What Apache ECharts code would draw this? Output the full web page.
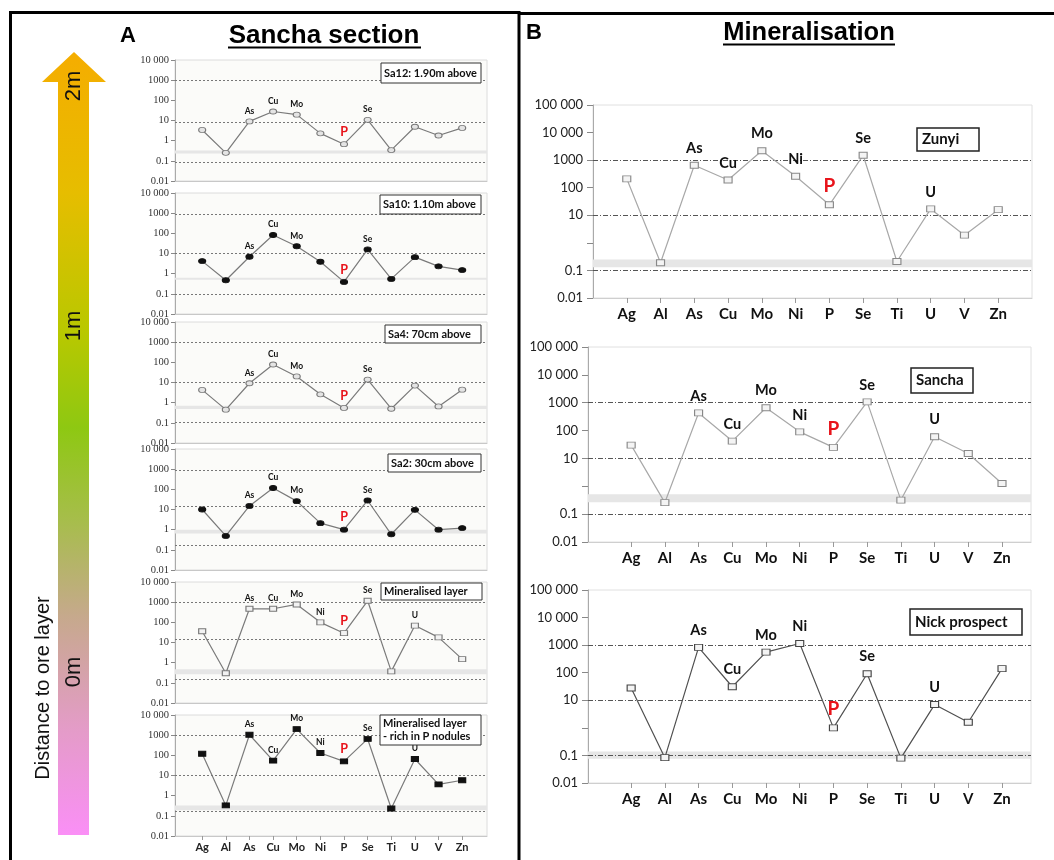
<!DOCTYPE html>
<html><head><meta charset="utf-8">
<script src="https://cdn.jsdelivr.net/npm/echarts@6/dist/echarts.min.js"></script>
<style>html,body{margin:0;padding:0;background:#fff}#c{width:1054px;height:860px}</style>
</head><body><div id="c"></div>
<script>
// ---------- DATA ----------
const elements = ['Ag','Al','As','Cu','Mo','Ni','P','Se','Ti','U','V','Zn'];
const yTicksA = ['0.01','0.1','1','10','100','1000','10 000'];
const yTicksB = ['0.01','0.1','','10','100','1000','10 000','100 000'];

// Panel A: Sancha section (top to bottom)
const panelA_names = ['Sa12: 1.90m above','Sa10: 1.10m above','Sa4: 70cm above','Sa2: 30cm above','Mineralised layer','Mineralised layer\n- rich in P nodules'];
const sa12     = [3.4, 0.25, 9, 28, 19.5, 2.3, 0.67, 10.8, 0.34, 4.9, 1.8, 4.3];
const sa10     = [4.2, 0.47, 6.9, 83, 23, 3.9, 0.39, 16, 0.55, 6.6, 2.3, 1.5];
const sa4      = [4.3, 0.45, 9.2, 78, 20, 2.6, 0.55, 14, 0.5, 7, 0.65, 4.4];
const sa2      = [10, 0.49, 15, 117, 26, 2.1, 1.0, 28, 0.59, 9.6, 1.0, 1.2];
const minLayer = [36, 0.3, 470, 470, 770, 100, 29, 1170, 0.37, 69, 18, 1.5];
const minLayerP= [120, 0.33, 1050, 55, 2000, 130, 50, 650, 0.23, 66, 3.6, 5.8];
const labelsA_short = ['As','Cu','Mo','P','Se'];
const labelsA_long  = ['As','Cu','Mo','Ni','P','Se','U'];
const refLinesA = [[1000, 8, 0.09],[900, 10, 0.1],[940, 10, 0.11],[850, 14, 0.16],[1000, 14, 0.15],[1000, 10, 0.16]];
const bandsA    = [[0.23, 0.33],[0.5, 0.63],[0.48, 0.71],[0.64, 1.0],[0.27, 0.47],[0.19, 0.33]];

// Panel B: Mineralisation
const panelB_names = ['Zunyi','Sancha','Nick prospect'];
const zunyi   = [210, 0.19, 650, 190, 2200, 260, 24, 1500, 0.21, 17, 1.9, 16];
const sanchaB = [30, 0.26, 430, 42, 660, 90, 25, 1070, 0.32, 60, 15, 1.26];
const nick    = [28, 0.083, 830, 31, 560, 1150, 1.0, 92, 0.08, 7, 1.6, 140];
const labelsB = ['As','Cu','Mo','Ni','P','Se','U'];
const refLinesB = [[1000, 10, 0.1],[1000, 10, 0.1],[1000, 10, 0.1]];
const bandsB    = [[0.13, 0.25],[0.27, 0.52],[0.075, 0.14]];

// ---------- LAYOUT ----------
const chart = echarts.init(document.getElementById('c'), null, {renderer:'canvas'});
const idx = elements.map((_, i) => i);
const grids = [], xAxes = [], yAxes = [], series = [], graphics = [];

const aTops = [60, 193, 322, 449, 582, 715];
const aVals = [sa12, sa10, sa4, sa2, minLayer, minLayerP];
const aSym = [
  {symbol:'circle', size:[7,5], fill:'#e4e4e4', stroke:'#777'},
  {symbol:'circle', size:[7,5], fill:'#111', stroke:'#111'},
  {symbol:'circle', size:[7,5], fill:'#e4e4e4', stroke:'#777'},
  {symbol:'circle', size:[7,5], fill:'#111', stroke:'#111'},
  {symbol:'rect', size:[7,5], fill:'#f2f2f2', stroke:'#777'},
  {symbol:'rect', size:[7,5], fill:'#111', stroke:'#111'}
];
const aBoxes = [
  [381, 63, 100, 20], [380, 195, 101, 19], [385, 325, 96, 18],
  [388, 454, 93, 18], [381, 583, 101, 17], [380, 715, 101, 30]
];

function logLabel(ticks) {
  return v => { const e = Math.round(Math.log10(v)); return ticks[e + 2] ?? ''; };
}

function buildData(vals, labeled, base, pSize, dist) {
  return elements.map((e, i) => {
    const item = {value: [i, vals[i]]};
    if (labeled.includes(e)) {
      item.label = {show: true, position: 'top', distance: dist, formatter: e,
        fontFamily: 'Lato', fontWeight: 'bold',
        fontSize: e === 'P' ? pSize : base, color: e === 'P' ? '#e8141b' : '#111'};
    }
    return item;
  });
}

aTops.forEach((top, k) => {
  const gi = grids.length;
  grids.push({left:175, top:top, width:312, height:121, show:true,
    backgroundColor:'#fbfbf9', borderColor:'#dcdcdc', borderWidth:1});
  const last = k === aTops.length - 1;
  xAxes.push({gridIndex: gi, type:'value', min:-1.15, max:12.05,
    axisLine:{show:true, onZero:false, lineStyle:{color:'#c8c8c8'}},
    splitLine:{show:false},
    axisTick:{show:last, customValues: idx, length:4, lineStyle:{color:'#999'}},
    axisLabel:{show:last, customValues: idx, formatter: v => elements[Math.round(v)],
      fontFamily:'Lato', fontWeight:'bold', fontSize:11, color:'#222', margin:6}
  });
  yAxes.push({gridIndex: gi, type:'log', logBase:10, min:0.01, max:10000, interval:1,
    axisLine:{show:true, onZero:false, lineStyle:{color:'#aaa'}},
    axisTick:{show:true, inside:false, length:4, lineStyle:{color:'#888'}},
    splitLine:{show:false},
    axisLabel:{formatter: logLabel(yTicksA), fontFamily:'Liberation Serif', fontSize:10.5, color:'#333', margin:6}
  });
  const s = aSym[k];
  series.push({type:'line', xAxisIndex: gi, yAxisIndex: gi,
    data: buildData(aVals[k], k < 4 ? labelsA_short : labelsA_long, 8.5, 12.5, 3),
    symbol: s.symbol, symbolSize: s.size, showSymbol:true,
    itemStyle:{color:s.fill, borderColor:s.stroke, borderWidth:1},
    lineStyle:{color:'#7a7a7a', width:1.2},
    label:{show:false}, animation:false, z:5,
    markLine:{silent:true, symbol:'none', label:{show:false}, animation:false,
      lineStyle:{color:'#777', type:[2,2], width:1},
      data: refLinesA[k].map(v => ({yAxis: v}))},
    markArea:{silent:true, animation:false, itemStyle:{color:'#e6e6e6'},
      data:[[{yAxis: bandsA[k][0]}, {yAxis: bandsA[k][1]}]]}
  });
  const b = aBoxes[k];
  graphics.push({type:'rect', z:100, shape:{x:b[0], y:b[1], width:b[2], height:b[3]},
    style:{fill:'#fff', stroke:'#333', lineWidth:1}});
  graphics.push({type:'text', z:101, x:b[0]+3, y:b[1]+b[3]/2,
    style:{text: panelA_names[k], fontFamily:'Lato', fontWeight:'bold', fontSize:11,
      fill:'#111', verticalAlign:'middle', align:'left', lineHeight:13}});
});

const bGrid = [
  {left:593, top:105, width:439, height:193, xmin:-1, xmax:12},
  {left:588, top:347, width:443, height:195, xmin:-1.28, xmax:11.86},
  {left:588, top:590, width:443, height:193, xmin:-1.28, xmax:11.86}
];
const bVals = [zunyi, sanchaB, nick];
const bLine = ['#a8a8a8', '#a8a8a8', '#505050'];
const bBoxes = [[917, 128, 62, 23], [911, 368, 62, 25], [910, 609, 112, 26]];

bGrid.forEach((g, k) => {
  const gi = grids.length;
  grids.push({left:g.left, top:g.top, width:g.width, height:g.height, show:true,
    backgroundColor:'#fff', borderColor:'#e0e0e0', borderWidth:1});
  xAxes.push({gridIndex: gi, type:'value', min:g.xmin, max:g.xmax,
    axisLine:{show:true, onZero:false, lineStyle:{color:'#cfcfcf'}},
    splitLine:{show:false},
    axisTick:{show:true, customValues: idx, length:5, lineStyle:{color:'#999'}},
    axisLabel:{show:true, customValues: idx, formatter: v => elements[Math.round(v)],
      fontFamily:'Lato', fontWeight:'bold', fontSize:15, color:'#111', margin:9}
  });
  yAxes.push({gridIndex: gi, type:'log', logBase:10, min:0.01, max:100000, interval:1,
    axisLine:{show:true, onZero:false, lineStyle:{color:'#aaa'}},
    axisTick:{show:true, length:6, lineStyle:{color:'#888'}},
    splitLine:{show:false},
    axisLabel:{formatter: logLabel(yTicksB), fontFamily:'Lato', fontSize:13, color:'#222', margin:10}
  });
  series.push({type:'line', xAxisIndex: gi, yAxisIndex: gi,
    data: buildData(bVals[k], labelsB, 14.5, 19, 6),
    symbol:'rect', symbolSize:[8,6], showSymbol:true,
    itemStyle:{color:'#f4f4f4', borderColor: k === 2 ? '#444' : '#888', borderWidth:1},
    lineStyle:{color:bLine[k], width:1.2},
    label:{show:false}, animation:false, z:5,
    markLine:{silent:true, symbol:'none', label:{show:false}, animation:false,
      lineStyle:{color:'#555', type:[5,2,1,2], width:1},
      data: refLinesB[k].map(v => ({yAxis: v}))},
    markArea:{silent:true, animation:false, itemStyle:{color:'#e6e6e6'},
      data:[[{yAxis: bandsB[k][0]}, {yAxis: bandsB[k][1]}]]}
  });
  const b = bBoxes[k];
  graphics.push({type:'rect', z:100, shape:{x:b[0], y:b[1], width:b[2], height:b[3]},
    style:{fill:'#fff', stroke:'#222', lineWidth:1.5}});
  graphics.push({type:'text', z:101, x:b[0]+5, y:b[1]+b[3]/2,
    style:{text: panelB_names[k], fontFamily:'Lato', fontWeight:'bold', fontSize:15,
      fill:'#111', verticalAlign:'middle', align:'left'}});
});

// Frames
graphics.push({type:'rect', z:50, shape:{x:10.5, y:12.5, width:508.5, height:880},
  style:{fill:'none', stroke:'#000', lineWidth:3}});
graphics.push({type:'line', z:50, shape:{x1:519, y1:13.5, x2:1060, y2:13.5},
  style:{stroke:'#000', lineWidth:3}});

// Headers
graphics.push({type:'text', z:60, x:120, y:36, style:{text:'A', fontFamily:'Liberation Sans', fontWeight:'bold', fontSize:22, fill:'#000', verticalAlign:'middle'}});
graphics.push({type:'text', z:60, x:324, y:36, style:{text:'Sancha section', fontFamily:'Liberation Sans', fontWeight:'bold', fontSize:26, fill:'#000', align:'center', verticalAlign:'middle'}});
graphics.push({type:'line', z:60, shape:{x1:228, y1:47.5, x2:421, y2:47.5}, style:{stroke:'#000', lineWidth:2}});
graphics.push({type:'text', z:60, x:526, y:33, style:{text:'B', fontFamily:'Liberation Sans', fontWeight:'bold', fontSize:22, fill:'#000', verticalAlign:'middle'}});
graphics.push({type:'text', z:60, x:809, y:33, style:{text:'Mineralisation', fontFamily:'Liberation Sans', fontWeight:'bold', fontSize:25.5, fill:'#000', align:'center', verticalAlign:'middle'}});
graphics.push({type:'line', z:60, shape:{x1:723, y1:44.5, x2:895, y2:44.5}, style:{stroke:'#000', lineWidth:2}});

// Gradient arrow
graphics.push({type:'polygon', z:40,
  shape:{points:[[74,52],[106,82],[89,82],[89,835],[58,835],[58,82],[42,82]]},
  style:{fill:{type:'linear', x:0, y:0, x2:0, y2:1, colorStops:[
    {offset:0, color:'#f5ad00'}, {offset:0.18, color:'#e6bd00'}, {offset:0.36, color:'#b8c800'},
    {offset:0.48, color:'#8ec812'}, {offset:0.6, color:'#a7bd4c'}, {offset:0.72, color:'#c6a98c'},
    {offset:0.86, color:'#e39cc6'}, {offset:1, color:'#fa8ff6'}]}}});
const rotTxt = (t, x, y, fs) => ({type:'text', z:61, x:x, y:y, rotation:Math.PI/2,
  style:{text:t, fontFamily:'Liberation Sans', fontSize:fs, fill:'#111', align:'center', verticalAlign:'middle'}});
graphics.push(rotTxt('2m', 74, 86, 22));
graphics.push(rotTxt('1m', 74, 326, 22));
graphics.push(rotTxt('0m', 74, 672, 22));
graphics.push(rotTxt('Distance to ore layer', 43, 688, 20));

chart.setOption({
  animation:false,
  backgroundColor:'#fff',
  grid: grids, xAxis: xAxes, yAxis: yAxes, series: series,
  graphic: graphics
});
</script></body></html>
